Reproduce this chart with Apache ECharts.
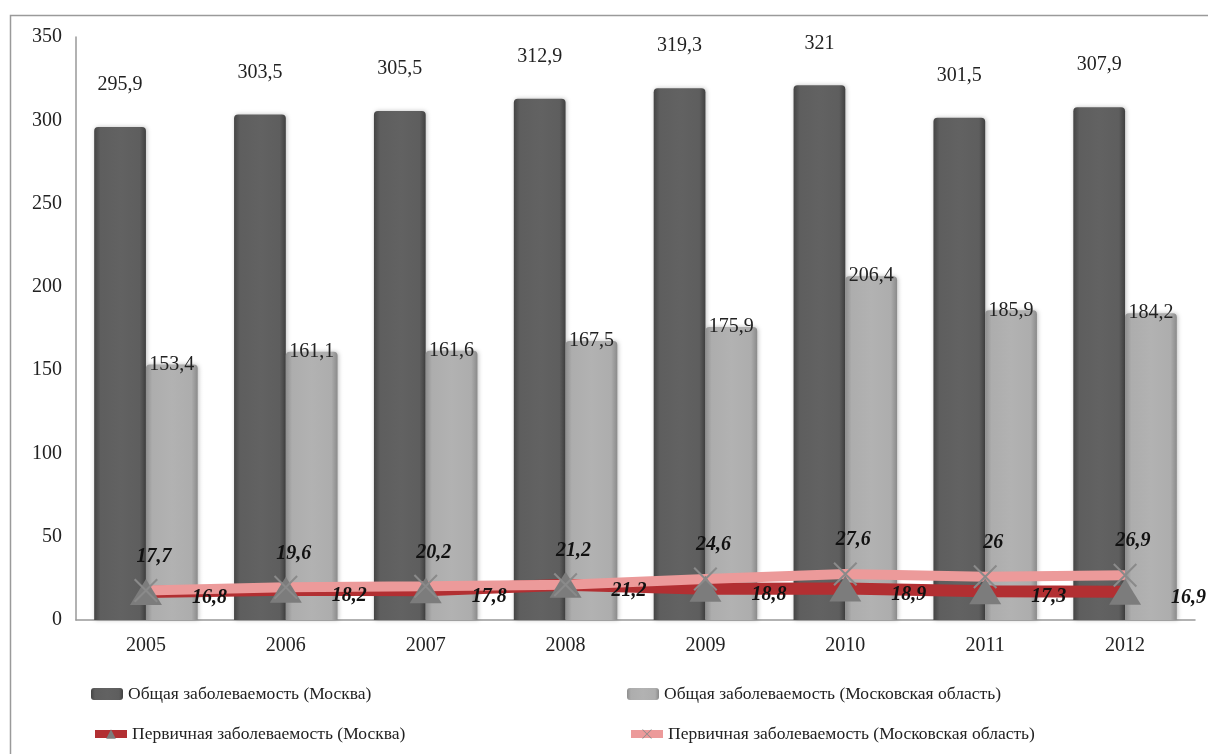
<!DOCTYPE html>
<html>
<head>
<meta charset="utf-8">
<script src="https://cdn.jsdelivr.net/npm/echarts@6/dist/echarts.min.js"></script>
<style>
html,body{margin:0;padding:0;background:#fff;}
#chart{width:1208px;height:754px;}
</style>
</head>
<body>
<div id="chart"></div>
<script>
const years = ['2005','2006','2007','2008','2009','2010','2011','2012'];
const generalMoscow = [295.9, 303.5, 305.5, 312.9, 319.3, 321, 301.5, 307.9];
const generalOblast = [153.4, 161.1, 161.6, 167.5, 175.9, 206.4, 185.9, 184.2];
const primaryMoscow = [16.8, 18.2, 17.8, 21.2, 18.8, 18.9, 17.3, 16.9];
const primaryOblast = [17.7, 19.6, 20.2, 21.2, 24.6, 27.6, 26, 26.9];
const seriesNames = [
  'Общая заболеваемость (Москва)',
  'Общая заболеваемость (Московская область)',
  'Первичная заболеваемость (Москва)',
  'Первичная заболеваемость (Московская область)'
];

const fmt = p => String(p.value).replace('.', ',');
const serif = '"Liberation Serif", "DejaVu Serif Condensed", "DejaVu Serif", serif';

const darkGrad = new echarts.graphic.LinearGradient(0,0,1,0,[
  {offset:0,color:'#444'},{offset:0.12,color:'#5e5e5e'},{offset:0.5,color:'#626262'},{offset:0.88,color:'#5e5e5e'},{offset:1,color:'#404040'}]);
const lightGrad = new echarts.graphic.LinearGradient(0,0,1,0,[
  {offset:0,color:'#8e8e8e'},{offset:0.12,color:'#adadad'},{offset:0.5,color:'#b2b2b2'},{offset:0.88,color:'#adadad'},{offset:1,color:'#8a8a8a'}]);

const xSymbol = 'path://M0,6 L6,0 L100,94 L94,100 Z M94,0 L100,6 L6,100 L0,94 Z';

const chart = echarts.init(document.getElementById('chart'), null, {renderer:'canvas'});
function mkLegend(name, left, top) {
  return {
    data: [name], left: left, top: top,
    itemWidth: 32, itemHeight: 12, itemGap: 4,
    lineStyle: {width: 8},
    textStyle: {fontFamily: serif, fontSize: 17.5, color: '#222'}
  };
}
chart.setOption({
  backgroundColor: '#fff',
  animation: false,
  textStyle: {fontFamily: serif},
  graphic: [{
    type: 'rect', left: 8, top: 13, shape: {width: 1215, height: 760},
    style: {fill: 'none', stroke: '#9a9a9a', lineWidth: 1.5}, silent: true, z: -10
  }],
  legend: [
    mkLegend(seriesNames[0], 86, 680),
    mkLegend(seriesNames[1], 622, 680),
    mkLegend(seriesNames[2], 86, 720),
    mkLegend(seriesNames[3], 622, 720)
  ],
  grid: {left: 76, right: 13, top: 37, bottom: 134, containLabel: false},
  xAxis: {
    type: 'category', data: years,
    axisLine: {lineStyle: {color: '#999', width: 1.5}},
    axisTick: {show: false},
    axisLabel: {fontFamily: serif, fontSize: 20, color: '#222', margin: 16}
  },
  yAxis: {
    type: 'value', min: 0, max: 350, interval: 50,
    axisLine: {show: true, lineStyle: {color: '#999', width: 1.5}},
    axisTick: {show: false},
    splitLine: {show: false},
    axisLabel: {fontFamily: serif, fontSize: 20, color: '#222', margin: 14}
  },
  series: [
    {
      name: seriesNames[0], type: 'bar', data: generalMoscow,
      barGap: '0%', barCategoryGap: '26%',
      itemStyle: {color: darkGrad, borderRadius: [4,4,0,0], shadowColor: 'rgba(0,0,0,0.25)', shadowBlur: 4, shadowOffsetX: 1},
      label: {show: true, position: 'top', distance: 32, formatter: fmt, fontFamily: serif, fontSize: 20, color: '#222'}
    },
    {
      name: seriesNames[1], type: 'bar', data: generalOblast,
      itemStyle: {color: lightGrad, borderRadius: [4,4,0,0], shadowColor: 'rgba(0,0,0,0.25)', shadowBlur: 4, shadowOffsetX: 1},
      label: {show: true, position: 'top', distance: 0, offset: [0, 10], formatter: fmt, fontFamily: serif, fontSize: 20, color: '#222'}
    },
    {
      name: seriesNames[2], type: 'line', data: primaryMoscow,
      symbol: 'triangle', symbolSize: [32, 26],
      lineStyle: {color: '#b22f32', width: 12},
      itemStyle: {color: '#7c7c7c'},
      label: {show: true, position: 'right', distance: 30, offset: [0, 6], formatter: fmt, fontFamily: serif, fontSize: 20, fontWeight: 'bold', fontStyle: 'italic', color: '#111'},
      z: 3
    },
    {
      name: seriesNames[3], type: 'line', data: primaryOblast,
      symbol: xSymbol, symbolSize: 24,
      lineStyle: {color: '#ec9a9a', width: 10},
      itemStyle: {color: '#8a8a8a'},
      label: {show: true, position: 'top', distance: 12, offset: [8, 0], formatter: fmt, fontFamily: serif, fontSize: 20, fontWeight: 'bold', fontStyle: 'italic', color: '#111'},
      z: 3
    }
  ]
});
</script>
</body>
</html>
